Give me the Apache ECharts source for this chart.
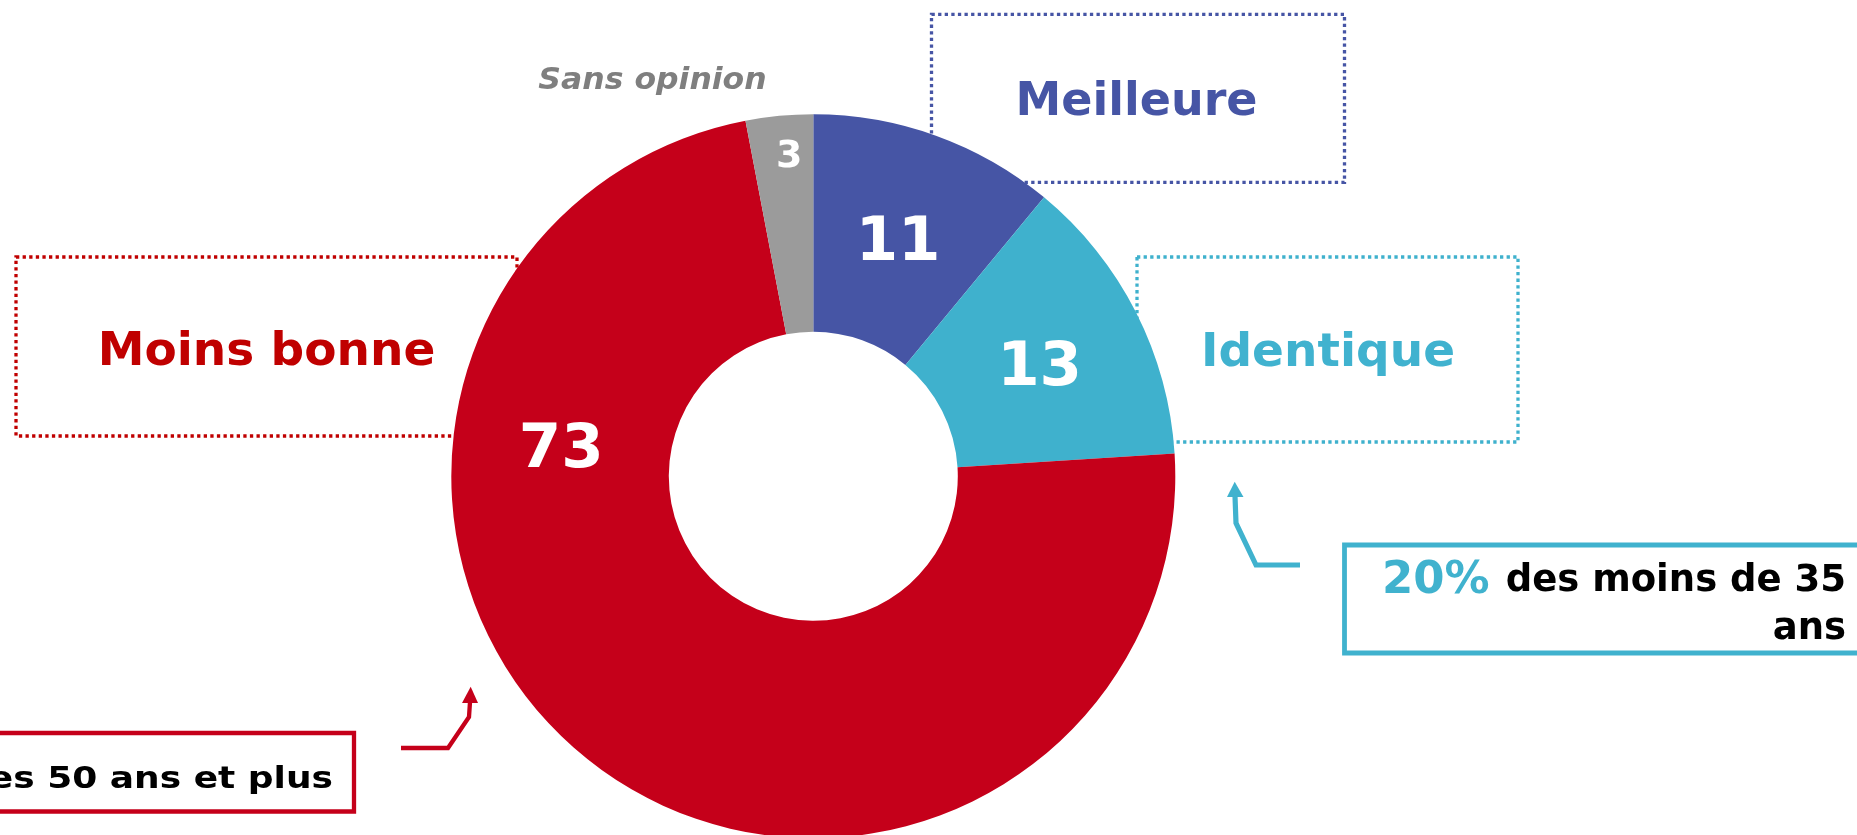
<!DOCTYPE html>
<html>
<head>
<meta charset="utf-8">
<title>Meilleure / Identique / Moins bonne</title>
<script src="https://cdn.jsdelivr.net/npm/echarts@6/dist/echarts.min.js"></script>
<style>
  html, body { margin: 0; padding: 0; background: #fff; }
  #main { width: 1857px; height: 835px; }
</style>
</head>
<body>
<div id="main"></div>
<script>
// donnees
const categories = ['Meilleure', 'Identique', 'Moins bonne', 'Sans opinion'];
const values = [11, 13, 73, 3];
const youngCallout = ['20%', 'des moins de 35', 'ans'];
const oldCallout = 'des 50 ans et plus';

const BLUE = '#4655a5';
const CYAN = '#3fb1cd';
const RED = '#c5001a';
const GREY = '#9b9b9b';
const sliceColors = [BLUE, CYAN, RED, GREY];
const FONT = '"DejaVu Sans", Verdana, sans-serif';

// decalage des etiquettes (73 et 3 sont deplacees)
const labelShift = [[-2, 9], [-2, 9], [-95, -228], [0, -64.5]];

const myChart = echarts.init(document.getElementById('main'));

function dotted(x, y, w, h, color) {
  return {
    type: 'rect',
    z: 0,
    shape: { x: x, y: y, width: w, height: h },
    style: { fill: 'none', stroke: color, lineWidth: 3.3, lineDash: [3.3, 3.3] }
  };
}

function txt(x, y, text, color, size, opts) {
  opts = opts || {};
  return {
    type: 'text',
    z: 5,
    x: x,
    y: y + size * 0.08,
    scaleX: opts.scaleX || 1,
    style: {
      text: text,
      fill: color,
      font: (opts.italic ? 'italic ' : '') + 'bold ' + size + 'px ' + FONT,
      align: opts.align || 'center',
      verticalAlign: 'middle',
      textAlign: opts.align || 'center',
      textVerticalAlign: 'middle'
    }
  };
}

myChart.setOption({
  animation: false,
  graphic: [
    // boites en pointilles (sous le graphique)
    dotted(931.5, 14.3, 413, 168, BLUE),
    dotted(1137, 257, 381, 185, CYAN),
    dotted(16, 257, 501, 179, '#c00000'),
    txt(1136.5, 99.5, categories[0], BLUE, 46),
    txt(1328, 350.5, categories[1], '#40b2cf', 47),
    txt(266.5, 349, categories[2], '#c00000', 47),
    txt(652.5, 78.5, categories[3], '#7f7f7f', 30, { italic: true, scaleX: 1.05 }),

    // encadre 50 ans et plus
    {
      type: 'rect',
      shape: { x: -20, y: 733, width: 374, height: 78.5 },
      style: { fill: '#fff', stroke: RED, lineWidth: 4.3 }
    },
    txt(333, 777.5, oldCallout, '#000', 30, { align: 'right', scaleX: 1.2 }),
    {
      type: 'polyline',
      shape: { points: [[401, 748], [448, 748], [469, 717], [470, 702]] },
      style: { fill: 'none', stroke: RED, lineWidth: 4.3 }
    },
    {
      type: 'polygon',
      shape: { points: [[462, 703], [478, 703], [470.7, 686.7]] },
      style: { fill: RED }
    },

    // encadre moins de 35 ans
    {
      type: 'rect',
      shape: { x: 1344.5, y: 545, width: 600, height: 108 },
      style: { fill: '#fff', stroke: '#40b2ce', lineWidth: 4.8 }
    },
    {
      type: 'text',
      z: 5,
      x: 1846,
      y: 581.5,
      style: {
        text: '{p|' + youngCallout[0] + '}{s| }{b|' + youngCallout[1] + '}',
        align: 'right',
        verticalAlign: 'middle',
        rich: {
          p: { fill: '#40b2ce', fontSize: 45, fontWeight: 'bold', fontFamily: FONT },
          s: { fill: '#000', fontSize: 37, fontWeight: 'bold', fontFamily: FONT, width: 16 },
          b: { fill: '#000', fontSize: 37, fontWeight: 'bold', fontFamily: FONT }
        }
      }
    },
    txt(1846, 626.5, youngCallout[2], '#000', 37, { align: 'right' }),
    {
      type: 'polyline',
      shape: { points: [[1300, 565], [1256, 565], [1236, 523], [1235, 496]] },
      style: { fill: 'none', stroke: '#40b2ce', lineWidth: 5.2 }
    },
    {
      type: 'polygon',
      shape: { points: [[1227, 497], [1243.5, 497], [1234.7, 481.7]] },
      style: { fill: '#40b2ce' }
    }
  ],
  series: [
    {
      type: 'pie',
      z: 2,
      silent: true,
      center: [813.3, 476.3],
      radius: [144.5, 362],
      startAngle: 90,
      clockwise: true,
      avoidLabelOverlap: false,
      emphasis: { scale: false },
      itemStyle: { borderWidth: 0 },
      label: {
        show: true,
        position: 'inside',
        formatter: '{c}',
        color: '#fff',
        fontFamily: FONT,
        fontWeight: 'bold',
        fontSize: 61
      },
      labelLine: { show: false },
      labelLayout: function (params) {
        const s = labelShift[params.dataIndex];
        return { dx: s[0], dy: s[1] };
      },
      data: categories.map(function (name, i) {
        const item = { name: name, value: values[i], itemStyle: { color: sliceColors[i] } };
        if (i === 3) {
          item.label = { fontSize: 38 };
        }
        return item;
      })
    }
  ]
});
</script>
</body>
</html>
